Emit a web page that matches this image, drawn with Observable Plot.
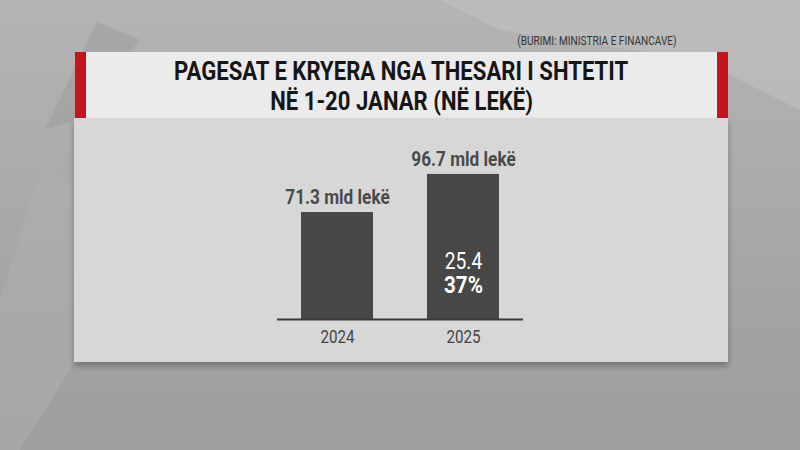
<!DOCTYPE html>
<html>
<head>
<meta charset="utf-8">
<script src="https://cdn.jsdelivr.net/npm/d3@7"></script>
<script src="https://cdn.jsdelivr.net/npm/@observablehq/plot@0.6"></script>
<style>
  html, body { margin: 0; padding: 0; }
  body { width: 800px; height: 450px; overflow: hidden; position: relative;
    background: linear-gradient(180deg, #b4b4b4 0%, #aaaaaa 45%, #a2a2a2 75%, #9e9e9e 100%);
    font-family: Roboto, "Noto Sans", sans-serif; }
  .deco { position: absolute; }
  #source { position: absolute; right: 123px; top: 34px; font-size: 12px; color: #333;
    white-space: nowrap; transform: scaleX(0.84); transform-origin: right center; }
  #titlebox { position: absolute; left: 75px; top: 52px; width: 653px; height: 66px;
    background: #ebebeb; }
  #titlebox .red { position: absolute; top: 0; width: 11px; height: 66px; background: #c3151c; }
  #title { position: absolute; left: 0; right: 0; top: 4px; text-align: center;
    font-weight: 700; font-size: 26px; line-height: 30px; color: #161616; }
  #title div { display: inline-block; transform: scaleX(0.85); transform-origin: center; white-space: nowrap; }
  #panel { position: absolute; left: 74px; top: 118px; width: 654px; height: 244px;
    background: #d7d7d7; box-shadow: 0 4px 6px rgba(0,0,0,0.28); }
  #panel svg { overflow: visible; }
</style>
</head>
<body>
<div class="deco" style="left:0;top:0;width:800px;height:450px;background:#9c9c9c;clip-path:polygon(97px 22px, 140px 40px, 75px 120px, 45px 130px);opacity:0.55"></div>
<div class="deco" style="left:0;top:0;width:800px;height:450px;background:#c2c2c2;clip-path:polygon(440px 0, 800px 0, 800px 110px, 700px 60px, 500px 30px);opacity:0.6"></div>
<div class="deco" style="left:0;top:0;width:800px;height:450px;background:#b0b0b0;clip-path:polygon(0 300px, 40px 170px, 75px 180px, 75px 362px, 20px 450px, 0 450px);opacity:0.5"></div>
<div id="source">(BURIMI: MINISTRIA E FINANCAVE)</div>
<div id="titlebox">
  <div class="red" style="left:0"></div>
  <div class="red" style="right:0"></div>
  <div id="title"><div>PAGESAT E KRYERA NGA THESARI I SHTETIT</div><br><div>NË 1-20 JANAR (NË LEKË)</div></div>
</div>
<div id="panel"></div>
<script>
// Data
const years = ["2024", "2025"];
const values = [71.3, 96.7];
const valueLabels = ["71.3 mld lekë", "96.7 mld lekë"];
const diffYears = ["2025"];
const diffValues = [25.4];
const diffLabels = ["25.4"];
const pctLabels = ["37%"];

const bars = years.map((y, i) => ({year: y, value: values[i], label: valueLabels[i]}));
const inner = diffYears.map((y, i) => ({year: y, value: diffValues[i], diff: diffLabels[i], pct: pctLabels[i]}));

const chart = Plot.plot({
  width: 654,
  height: 244,
  marginLeft: 203,
  marginRight: 205,
  marginTop: 6,
  marginBottom: 43,
  style: {fontFamily: "Roboto", background: "transparent", overflow: "visible"},
  x: {domain: years, paddingInner: 0.4286, paddingOuter: 0.19, label: null, tickSize: 0, tickPadding: 10},
  y: {domain: [0, 130], axis: null},
  marks: [
    Plot.barY(bars, {x: "year", y: "value", fill: "#474747"}),
    Plot.ruleY([0], {stroke: "#3a3a3a", strokeWidth: 2}),
    Plot.text(bars, {x: "year", y: "value", text: "label", lineAnchor: "middle", dy: -15,
      fontSize: 20, fontWeight: 700, fill: "#4a4a4a"}),
    Plot.text(inner, {x: "year", y: "value", text: "diff", lineAnchor: "middle", dy: -20,
      fontSize: 24, fontWeight: 400, fill: "#ffffff"}),
    Plot.text(inner, {x: "year", y: "value", text: "pct", lineAnchor: "middle", dy: 4,
      fontSize: 24, fontWeight: 700, fill: "#ffffff"}),
    Plot.axisX({tickSize: 0, tickPadding: 10, fontSize: 19, color: "#444", label: null})
  ]
});
document.getElementById("panel").appendChild(chart);

// Condensed look: shrink text horizontally
chart.querySelectorAll("text").forEach(t => {
  const w = t.getComputedTextLength();
  if (w > 0) {
    const bold = +getComputedStyle(t).fontWeight >= 600;
    t.setAttribute("textLength", w * (bold ? 0.86 : 0.8));
    t.setAttribute("lengthAdjust", "spacingAndGlyphs");
  }
});
</script>
</body>
</html>
